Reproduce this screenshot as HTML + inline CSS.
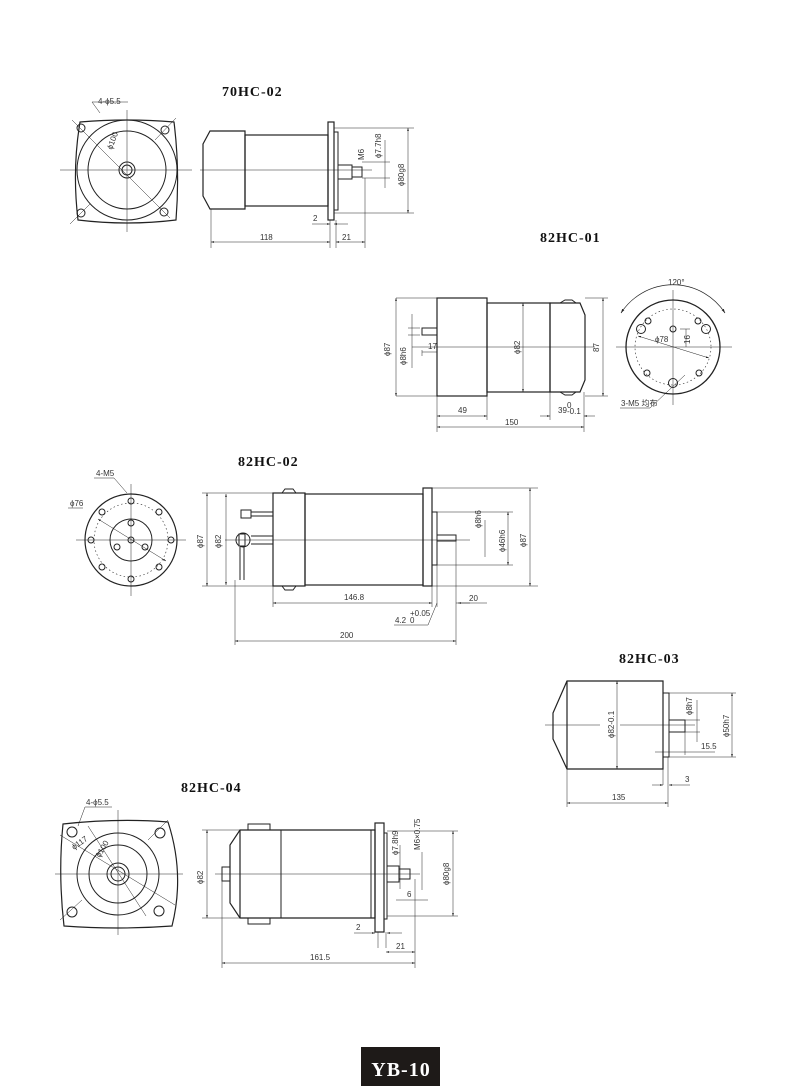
<!DOCTYPE html>
<html><head><meta charset="utf-8"><style>
html,body{margin:0;padding:0;background:#fff;}
svg{display:block}
.t{font-family:"Liberation Sans","Noto Sans CJK SC",sans-serif;font-size:8px;fill:#333}
.h{font-family:"Liberation Serif",serif;font-weight:bold;font-size:14px;letter-spacing:1px;fill:#111}
</style></head><body>
<svg width="800" height="1086" viewBox="0 0 800 1086" xmlns="http://www.w3.org/2000/svg">
<defs>
<marker id="a" viewBox="0 0 10 10" refX="10" refY="5" markerWidth="6" markerHeight="6" orient="auto-start-reverse"><path d="M0,2 L10,5 L0,8z" fill="#222"/></marker>
</defs>
<g fill="none" stroke="#222" stroke-width="1">

<!-- ===== 70HC-02 ===== -->
<text class="h" x="222" y="96" stroke="none">70HC-02</text>
<path d="M80,122 Q127,118 174,122 Q180,170 176,220 Q127,226 78,220 Q72,170 80,122z" stroke-width="1.2"/>
<circle cx="127" cy="170" r="50"/><circle cx="127" cy="170" r="39"/>
<circle cx="127" cy="170" r="8"/><circle cx="127" cy="170" r="5"/>
<circle cx="81" cy="128" r="4"/><circle cx="165" cy="130" r="4"/><circle cx="81" cy="213" r="4"/><circle cx="164" cy="212" r="4"/>
<g stroke-width="0.5"><line x1="60" y1="170" x2="192" y2="170"/><line x1="127" y1="110" x2="127" y2="232"/>
<line x1="72" y1="120" x2="170" y2="218"/><line x1="100" y1="113" x2="92" y2="102"/><line x1="92" y1="102" x2="128" y2="102"/>
<line x1="155" y1="140" x2="176" y2="118"/><line x1="70" y1="224" x2="90" y2="204"/></g>
<text class="t" x="98" y="104" stroke="none">4-ϕ5.5</text>
<text class="t" x="112" y="150" stroke="none" transform="rotate(-70 112 150)">ϕ100</text>
<!-- side -->
<path d="M210,131 L245,131 L245,209 L210,209 L203,196 L203,144z" stroke-width="1.2"/>
<rect x="245" y="135" width="83" height="71" stroke-width="1.2"/>
<rect x="328" y="122" width="6" height="98" stroke-width="1.2"/>
<rect x="334" y="132" width="4" height="78"/>
<rect x="338" y="165" width="14" height="14"/><rect x="352" y="167" width="10" height="10"/>
<g stroke-width="0.5"><line x1="200" y1="170" x2="372" y2="170"/>
<line x1="211" y1="209" x2="211" y2="248"/><line x1="330" y1="220" x2="330" y2="248"/><line x1="336" y1="220" x2="336" y2="248"/><line x1="365" y1="178" x2="365" y2="248"/>
<line x1="334" y1="128" x2="414" y2="128"/><line x1="334" y1="213" x2="414" y2="213"/>
<line x1="211" y1="242" x2="330" y2="242" marker-start="url(#a)" marker-end="url(#a)"/>
<line x1="336" y1="242" x2="365" y2="242" marker-start="url(#a)" marker-end="url(#a)"/>
<line x1="312" y1="224" x2="330" y2="224" marker-end="url(#a)"/><line x1="348" y1="224" x2="334" y2="224" marker-end="url(#a)"/>
<line x1="408" y1="128" x2="408" y2="213" marker-start="url(#a)" marker-end="url(#a)"/>
<line x1="385" y1="140" x2="385" y2="188"/><line x1="362" y1="162" x2="390" y2="162"/><line x1="362" y1="178" x2="390" y2="178"/></g>
<text class="t" x="260" y="240" stroke="none">118</text><text class="t" x="342" y="240" stroke="none">21</text><text class="t" x="313" y="221" stroke="none">2</text>
<text class="t" x="404" y="186" stroke="none" transform="rotate(-90 404 186)">ϕ80g8</text>
<text class="t" x="381" y="158" stroke="none" transform="rotate(-90 381 158)">ϕ7.7h8</text>
<text class="t" x="364" y="160" stroke="none" transform="rotate(-90 364 160)">M6</text>

<!-- ===== 82HC-01 ===== -->
<text class="h" x="540" y="242" stroke="none">82HC-01</text>
<rect x="437" y="298" width="50" height="98" stroke-width="1.2"/>
<rect x="487" y="303" width="63" height="89" stroke-width="1.2"/>
<path d="M550,303 L580,303 L585,315 L585,380 L580,392 L550,392z" stroke-width="1.2"/>
<path d="M560,303 L565,300 L572,300 L576,303 M560,392 L565,395 L572,395 L576,392"/>
<rect x="422" y="328" width="15" height="7"/>
<g stroke-width="0.5"><line x1="412" y1="347" x2="595" y2="347"/>
<line x1="396" y1="298" x2="437" y2="298"/><line x1="396" y1="396" x2="437" y2="396"/>
<line x1="396" y1="298" x2="396" y2="396" marker-start="url(#a)" marker-end="url(#a)"/>
<line x1="412" y1="314" x2="412" y2="368"/><line x1="408" y1="328" x2="420" y2="328"/><line x1="408" y1="335" x2="420" y2="335"/>
<line x1="437" y1="396" x2="437" y2="432"/><line x1="487" y1="392" x2="487" y2="420"/><line x1="550" y1="392" x2="550" y2="420"/><line x1="584" y1="392" x2="584" y2="432"/>
<line x1="437" y1="416" x2="487" y2="416" marker-start="url(#a)" marker-end="url(#a)"/>
<line x1="540" y1="416" x2="550" y2="416" marker-end="url(#a)"/><line x1="595" y1="416" x2="584" y2="416" marker-end="url(#a)"/>
<line x1="437" y1="427" x2="584" y2="427" marker-start="url(#a)" marker-end="url(#a)"/>
<line x1="523" y1="303" x2="523" y2="392" marker-start="url(#a)" marker-end="url(#a)"/>
<line x1="585" y1="298" x2="608" y2="298"/><line x1="585" y1="396" x2="608" y2="396"/>
<line x1="603" y1="298" x2="603" y2="396" marker-start="url(#a)" marker-end="url(#a)"/>
<line x1="422" y1="350" x2="422" y2="356"/><line x1="422" y1="352" x2="437" y2="352"/></g>
<text class="t" x="458" y="413" stroke="none">49</text><text class="t" x="505" y="425" stroke="none">150</text>
<text class="t" x="558" y="413" stroke="none">39</text><text class="t" x="567" y="408" stroke="none" font-size="6">0</text><text class="t" x="567" y="414" stroke="none" font-size="6">-0.1</text>
<text class="t" x="428" y="349" stroke="none">17</text>
<text class="t" x="390" y="356" stroke="none" transform="rotate(-90 390 356)">ϕ87</text>
<text class="t" x="406" y="365" stroke="none" transform="rotate(-90 406 365)">ϕ8h6</text>
<text class="t" x="520" y="354" stroke="none" transform="rotate(-90 520 354)">ϕ82</text>
<text class="t" x="599" y="352" stroke="none" transform="rotate(-90 599 352)">87</text>
<!-- end view -->
<circle cx="673" cy="347" r="47" stroke-width="1.3"/>
<circle cx="673" cy="347" r="38" stroke-dasharray="1.5,2.5" stroke-width="0.6"/>
<path d="M621,313 A62,62 0 0 1 725,313" stroke-width="0.7" marker-start="url(#a)" marker-end="url(#a)"/>
<circle cx="673" cy="329" r="3"/><circle cx="641" cy="329" r="4.5"/><circle cx="706" cy="329" r="4.5"/><circle cx="673" cy="383" r="4.5"/>
<circle cx="648" cy="321" r="3"/><circle cx="698" cy="321" r="3"/><circle cx="647" cy="373" r="3"/><circle cx="699" cy="373" r="3"/>
<g stroke-width="0.5"><line x1="616" y1="347" x2="732" y2="347"/><line x1="673" y1="290" x2="673" y2="405"/>
<line x1="638" y1="336" x2="709" y2="358" marker-start="url(#a)" marker-end="url(#a)"/>
<line x1="680" y1="329" x2="690" y2="329"/><line x1="686" y1="329" x2="686" y2="347"/>
<line x1="685" y1="375" x2="650" y2="408"/><line x1="650" y1="408" x2="620" y2="408"/></g>
<text class="t" x="668" y="285" stroke="none">120°</text><text class="t" x="655" y="342" stroke="none">ϕ78</text>
<text class="t" x="690" y="344" stroke="none" transform="rotate(-90 690 344)">16</text>
<text class="t" x="621" y="406" stroke="none" font-size="7">3-M5 均布</text>

<!-- ===== 82HC-02 ===== -->
<text class="h" x="238" y="466" stroke="none">82HC-02</text>
<circle cx="131" cy="540" r="46" stroke-width="1.2"/>
<circle cx="131" cy="540" r="37" stroke-dasharray="1.5,2.5" stroke-width="0.6"/>
<circle cx="131" cy="540" r="21"/>
<circle cx="131" cy="501" r="3"/><circle cx="131" cy="579" r="3"/><circle cx="91" cy="540" r="3"/><circle cx="171" cy="540" r="3"/>
<circle cx="102" cy="512" r="3"/><circle cx="159" cy="512" r="3"/><circle cx="102" cy="567" r="3"/><circle cx="159" cy="567" r="3"/>
<circle cx="131" cy="523" r="3"/><circle cx="131" cy="540" r="3"/><circle cx="117" cy="547" r="3"/><circle cx="145" cy="547" r="3"/>
<g stroke-width="0.5"><line x1="76" y1="540" x2="186" y2="540"/><line x1="131" y1="484" x2="131" y2="596"/>
<line x1="98" y1="519" x2="166" y2="561" marker-start="url(#a)" marker-end="url(#a)"/>
<line x1="127" y1="493" x2="114" y2="478"/><line x1="114" y1="478" x2="94" y2="478"/><line x1="83" y1="508" x2="68" y2="508"/></g>
<text class="t" x="96" y="476" stroke="none">4-M5</text><text class="t" x="70" y="506" stroke="none">ϕ76</text>
<!-- side -->
<rect x="273" y="493" width="32" height="93" stroke-width="1.2"/>
<rect x="305" y="494" width="118" height="91" stroke-width="1.2"/>
<rect x="423" y="488" width="9" height="98" stroke-width="1.2"/>
<rect x="432" y="512" width="5" height="53"/>
<rect x="437" y="535" width="19" height="6"/>
<path d="M282,493 L285,489 L293,489 L296,493 M282,586 L285,590 L293,590 L296,586"/>
<rect x="241" y="510" width="10" height="8"/><line x1="251" y1="512" x2="273" y2="512"/><line x1="251" y1="516" x2="273" y2="516"/>
<circle cx="243" cy="540" r="7"/><rect x="239" y="534" width="6" height="12"/>
<line x1="251" y1="536" x2="273" y2="536"/><line x1="251" y1="544" x2="273" y2="544"/>
<line x1="240" y1="547" x2="240" y2="580"/><line x1="244" y1="547" x2="244" y2="580"/>
<g stroke-width="0.5"><line x1="225" y1="540" x2="470" y2="540"/>
<line x1="202" y1="493" x2="273" y2="493"/><line x1="202" y1="586" x2="273" y2="586"/>
<line x1="207" y1="493" x2="207" y2="586" marker-start="url(#a)" marker-end="url(#a)"/>
<line x1="226" y1="494" x2="226" y2="585" marker-start="url(#a)" marker-end="url(#a)"/>
<line x1="432" y1="488" x2="538" y2="488"/><line x1="432" y1="586" x2="538" y2="586"/>
<line x1="530" y1="488" x2="530" y2="586" marker-start="url(#a)" marker-end="url(#a)"/>
<line x1="437" y1="512" x2="513" y2="512"/><line x1="437" y1="565" x2="513" y2="565"/>
<line x1="508" y1="512" x2="508" y2="565" marker-start="url(#a)" marker-end="url(#a)"/>
<line x1="485" y1="520" x2="485" y2="557"/>
<line x1="273" y1="586" x2="273" y2="607"/><line x1="432" y1="586" x2="432" y2="607"/><line x1="437" y1="565" x2="437" y2="607"/><line x1="456" y1="541" x2="456" y2="645"/><line x1="235" y1="580" x2="235" y2="645"/>
<line x1="273" y1="603" x2="432" y2="603" marker-start="url(#a)" marker-end="url(#a)"/>
<line x1="456" y1="603" x2="487" y2="603"/><line x1="470" y1="603" x2="458" y2="603" marker-end="url(#a)"/>
<line x1="437" y1="603" x2="428" y2="625"/><line x1="428" y1="625" x2="394" y2="625"/>
<line x1="235" y1="641" x2="456" y2="641" marker-start="url(#a)" marker-end="url(#a)"/></g>
<text class="t" x="344" y="600" stroke="none">146.8</text><text class="t" x="469" y="601" stroke="none">20</text>
<text class="t" x="340" y="638" stroke="none">200</text><text class="t" x="395" y="623" stroke="none">4.2</text>
<text class="t" x="410" y="616" stroke="none" font-size="6">+0.05</text><text class="t" x="410" y="623" stroke="none" font-size="6">0</text>
<text class="t" x="221" y="548" stroke="none" transform="rotate(-90 221 548)">ϕ82</text>
<text class="t" x="203" y="548" stroke="none" transform="rotate(-90 203 548)">ϕ87</text>
<text class="t" x="526" y="547" stroke="none" transform="rotate(-90 526 547)">ϕ87</text>
<text class="t" x="505" y="552" stroke="none" transform="rotate(-90 505 552)">ϕ46h6</text>
<text class="t" x="481" y="528" stroke="none" transform="rotate(-90 481 528)">ϕ8h6</text>

<!-- ===== 82HC-03 ===== -->
<text class="h" x="619" y="663" stroke="none">82HC-03</text>
<path d="M567,681 L663,681 L663,769 L567,769 L553,739 L553,713z" stroke-width="1.2"/>
<line x1="567" y1="681" x2="567" y2="769" stroke-width="1.2"/>
<rect x="663" y="693" width="6" height="64"/>
<rect x="669" y="720" width="16" height="12"/>
<g stroke-width="0.5"><line x1="545" y1="725" x2="600" y2="725"/><line x1="620" y1="725" x2="695" y2="725"/>
<line x1="617" y1="681" x2="617" y2="769" marker-start="url(#a)" marker-end="url(#a)"/>
<line x1="669" y1="693" x2="736" y2="693"/><line x1="669" y1="757" x2="736" y2="757"/>
<line x1="732" y1="693" x2="732" y2="757" marker-start="url(#a)" marker-end="url(#a)"/>
<line x1="685" y1="720" x2="700" y2="720"/><line x1="685" y1="732" x2="700" y2="732"/>
<line x1="697" y1="700" x2="697" y2="742"/>
<line x1="685" y1="732" x2="685" y2="755"/><line x1="655" y1="752" x2="715" y2="752"/>
<line x1="567" y1="769" x2="567" y2="807"/><line x1="668" y1="757" x2="668" y2="807"/><line x1="663" y1="769" x2="663" y2="785"/>
<line x1="567" y1="803" x2="668" y2="803" marker-start="url(#a)" marker-end="url(#a)"/>
<line x1="652" y1="785" x2="663" y2="785" marker-end="url(#a)"/><line x1="690" y1="785" x2="669" y2="785" marker-end="url(#a)"/></g>
<text class="t" x="612" y="800" stroke="none">135</text><text class="t" x="685" y="782" stroke="none">3</text><text class="t" x="701" y="749" stroke="none" font-size="7">15.5</text>
<text class="t" x="614" y="738" stroke="none" transform="rotate(-90 614 738)" font-size="7">ϕ82-0.1</text>
<text class="t" x="729" y="737" stroke="none" transform="rotate(-90 729 737)" font-size="7">ϕ50h7</text>
<text class="t" x="692" y="715" stroke="none" transform="rotate(-90 692 715)" font-size="7">ϕ8h7</text>

<!-- ===== 82HC-04 ===== -->
<text class="h" x="181" y="792" stroke="none">82HC-04</text>
<path d="M63,824 Q118,818 168,822 Q185,874 172,926 Q118,930 64,926 Q58,874 63,824z" stroke-width="1.2"/>
<circle cx="118" cy="874" r="41"/><circle cx="118" cy="874" r="29"/>
<circle cx="118" cy="874" r="11"/><circle cx="118" cy="874" r="7"/>
<circle cx="72" cy="832" r="5"/><circle cx="160" cy="833" r="5"/><circle cx="72" cy="912" r="5"/><circle cx="159" cy="911" r="5"/>
<g stroke-width="0.5"><line x1="55" y1="874" x2="183" y2="874"/><line x1="118" y1="810" x2="118" y2="935"/>
<line x1="60" y1="835" x2="175" y2="905"/><line x1="88" y1="826" x2="146" y2="916"/>
<line x1="78" y1="826" x2="85" y2="807"/><line x1="85" y1="807" x2="112" y2="807"/>
<line x1="148" y1="840" x2="168" y2="820"/><line x1="60" y1="920" x2="82" y2="900"/></g>
<text class="t" x="86" y="805" stroke="none">4-ϕ5.5</text>
<text class="t" x="74" y="850" stroke="none" transform="rotate(-35 74 850)" font-size="7">ϕ117</text>
<text class="t" x="100" y="858" stroke="none" transform="rotate(-60 100 858)" font-size="7">ϕ100</text>
<!-- side -->
<path d="M240,830 L375,830 L375,918 L240,918 L230,903 L230,845z" stroke-width="1.2"/>
<line x1="240" y1="830" x2="240" y2="918" stroke-width="1.2"/>
<line x1="281" y1="830" x2="281" y2="918"/><line x1="371" y1="830" x2="371" y2="918"/>
<rect x="248" y="824" width="22" height="6"/><rect x="248" y="918" width="22" height="6"/>
<rect x="222" y="867" width="8" height="14"/>
<rect x="375" y="823" width="9" height="109" stroke-width="1.2"/>
<rect x="384" y="833" width="3" height="86"/>
<rect x="387" y="866" width="12" height="16"/><rect x="399" y="869" width="11" height="10"/>
<g stroke-width="0.5"><line x1="215" y1="874" x2="420" y2="874"/>
<line x1="202" y1="830" x2="240" y2="830"/><line x1="202" y1="918" x2="240" y2="918"/>
<line x1="207" y1="830" x2="207" y2="918" marker-start="url(#a)" marker-end="url(#a)"/>
<line x1="387" y1="831" x2="458" y2="831"/><line x1="387" y1="916" x2="458" y2="916"/>
<line x1="453" y1="831" x2="453" y2="916" marker-start="url(#a)" marker-end="url(#a)"/>
<line x1="400" y1="845" x2="400" y2="889"/><line x1="422" y1="852" x2="422" y2="890"/>
<line x1="396" y1="900" x2="428" y2="900"/>
<line x1="222" y1="881" x2="222" y2="968"/><line x1="415" y1="879" x2="415" y2="968"/><line x1="378" y1="932" x2="378" y2="948"/><line x1="386" y1="932" x2="386" y2="948"/>
<line x1="222" y1="963" x2="415" y2="963" marker-start="url(#a)" marker-end="url(#a)"/>
<line x1="386" y1="952" x2="415" y2="952" marker-start="url(#a)" marker-end="url(#a)"/>
<line x1="354" y1="933" x2="375" y2="933" marker-end="url(#a)"/><line x1="402" y1="933" x2="387" y2="933" marker-end="url(#a)"/></g>
<text class="t" x="310" y="960" stroke="none">161.5</text><text class="t" x="396" y="949" stroke="none">21</text><text class="t" x="356" y="930" stroke="none">2</text><text class="t" x="407" y="897" stroke="none">6</text>
<text class="t" x="203" y="884" stroke="none" transform="rotate(-90 203 884)">ϕ82</text>
<text class="t" x="449" y="885" stroke="none" transform="rotate(-90 449 885)">ϕ80g8</text>
<text class="t" x="398" y="855" stroke="none" transform="rotate(-90 398 855)">ϕ7.8h9</text>
<text class="t" x="420" y="850" stroke="none" transform="rotate(-90 420 850)">M6×0.75</text>
</g>

<!-- footer -->
<rect x="361" y="1047" width="79" height="39" fill="#1e1a18"/>
<text x="401" y="1076" text-anchor="middle" font-family="Liberation Serif,serif" font-weight="bold" font-size="20" letter-spacing="1" fill="#fff">YB-10</text>
</svg>
</body></html>
